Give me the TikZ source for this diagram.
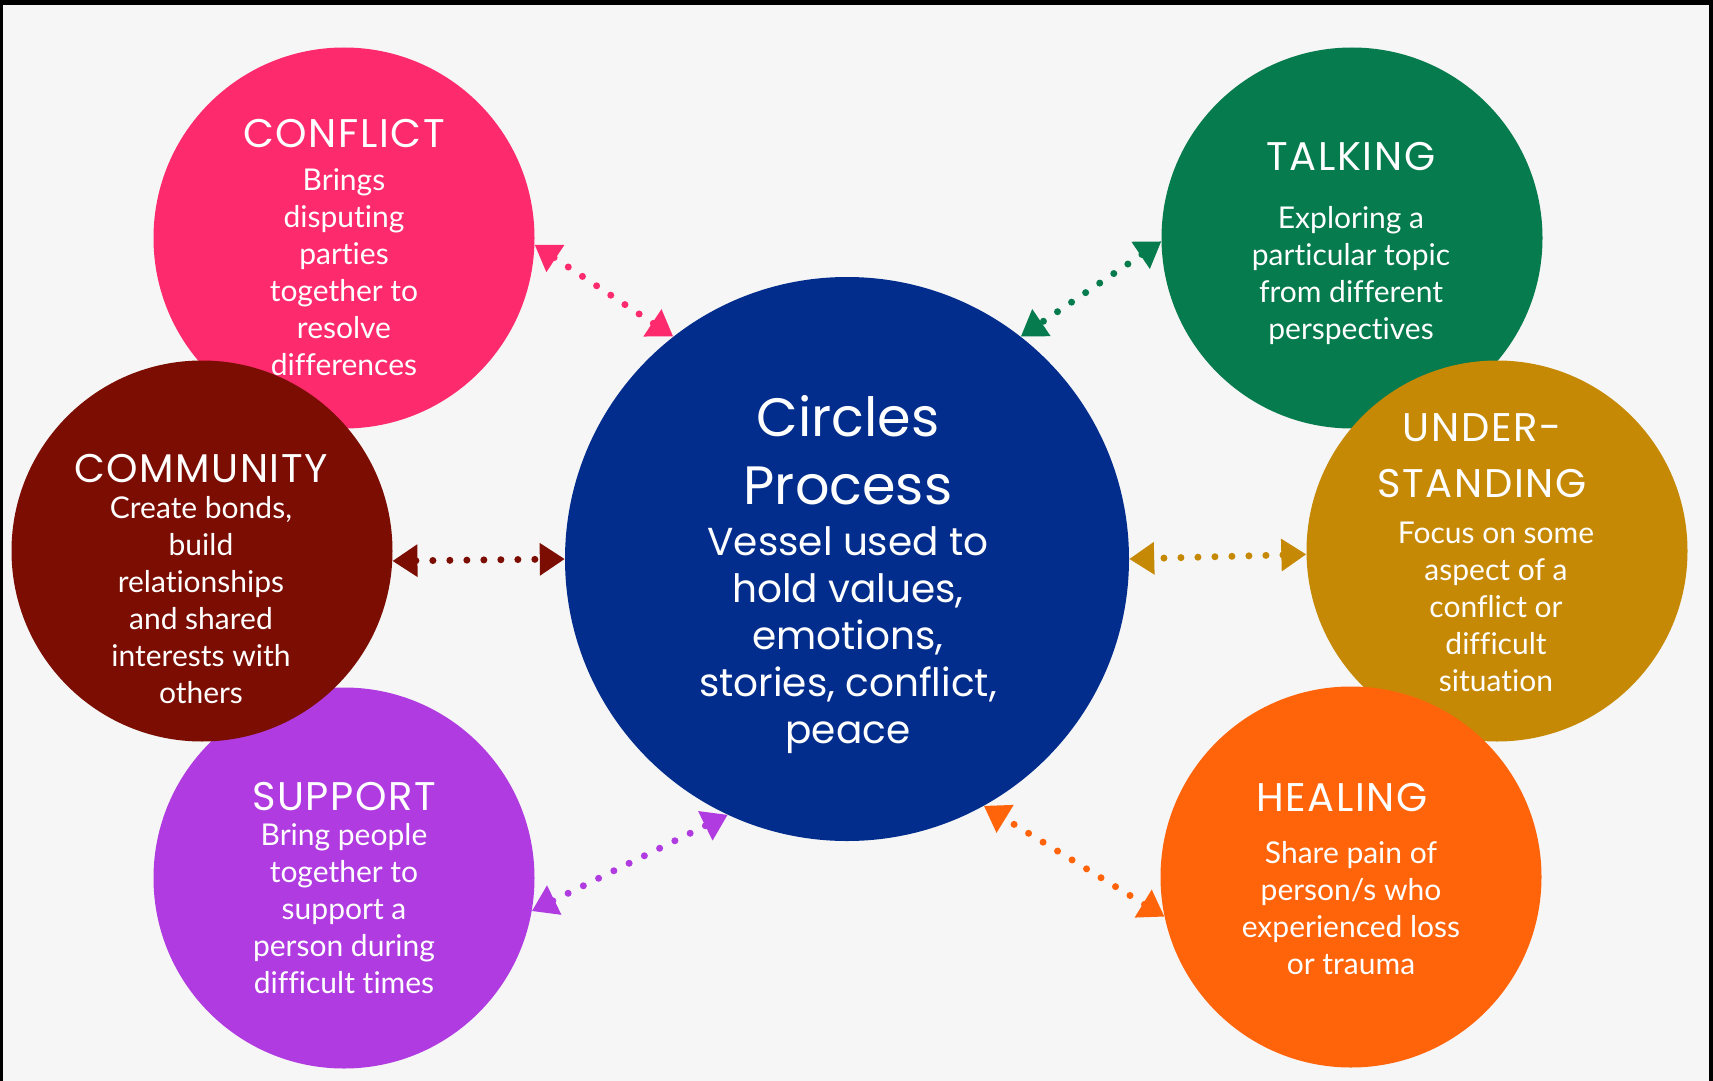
\documentclass[tikz,border=0pt]{standalone}
\usepackage{fontspec}
\setmainfont{Poppins}
\newfontfamily\handfont{Lato}[Ligatures=NoCommon]
\newfontfamily\ttlfamily{Poppins}[LetterSpace=4]
\usetikzlibrary{arrows.meta}
\definecolor{bgc}{HTML}{F6F6F6}
\definecolor{cpink}{HTML}{FE2A6E}
\definecolor{cgreen}{HTML}{067B4E}
\definecolor{cmaroon}{HTML}{7B0D02}
\definecolor{cgold}{HTML}{C68905}
\definecolor{cpurple}{HTML}{B03BE0}
\definecolor{corange}{HTML}{FF640A}
\definecolor{cblue}{HTML}{022D8C}
\begin{document}
\begin{tikzpicture}[x=1pt,y=-1pt,
  bubble/.style={circle, inner sep=0pt, minimum size=381pt, draw=none},
  ttl/.style={text=white, font=\ttlfamily\fontsize{40}{56}\selectfont, inner sep=0pt, anchor=base},
  body/.style={text=white, font=\handfont\fontsize{30}{37}\selectfont, align=center, inner sep=0pt, anchor=base},
  link/.style={line width=7pt, dash pattern=on 0pt off 17pt, line cap=round, {Triangle[length=25pt,width=31pt]}-{Triangle[length=25pt,width=31pt]}}
]
\fill[black] (0,0) rectangle (1713,1081);
\fill[bgc] (3,5) rectangle (1709,1081);
\useasboundingbox (0,0) rectangle (1713,1081);

% circles
\node[bubble, fill=cpink] (conflict) at (344,238) {};
\node[bubble, fill=cpurple] (support) at (344,878) {};
\node[bubble, fill=cmaroon] (community) at (202,551) {};
\node[bubble, fill=cgreen] (talking) at (1352,238) {};
\node[bubble, fill=cgold] (under) at (1497,551) {};
\node[bubble, fill=corange] (healing) at (1351,877) {};
\node[circle, inner sep=0pt, minimum size=564pt, fill=cblue] (core) at (847,559) {};

% connectors
\draw[link, cpink] (conflict.-2) -- (core.128.3);
\draw[link, cgreen] (talking.181.5) -- (core.52.2);
\draw[link, cmaroon] (community.-3.3) -- (core.180.6);
\draw[link, cgold] (under.181.8) -- (core.0.4);
\draw[link, cpurple] (support.-10) -- (core.-115.7);
\draw[link, corange] (healing.192.7) -- (core.-61.7);

% texts (anchor=base is the baseline of the last line)
\node[ttl] (t1) at (344,147) {CONFLICT};
\node[body] (b1) at (344,375) {Brings\\disputing\\parties\\together to\\resolve\\differences};

\node[ttl] (t2) at (1351,170) {TALKING};
\node[body] (b2) at (1351,339) {Exploring a\\particular topic\\from different\\perspectives};

\node[ttl] (t3) at (201,482) {COMMUNITY};
\node[body] (b3) at (201,703) {Create bonds,\\build\\relationships\\and shared\\interests with\\others};

\node[ttl, align=center] (t4) at (1482,497) {UNDER-\\STANDING};
\node[body] (b4) at (1496,691) {Focus on some\\aspect of a\\conflict or\\difficult\\situation};

\node[ttl] (t5) at (344,810) {SUPPORT};
\node[body] (b5) at (344,993) {Bring people\\together to\\support a\\person during\\difficult times};

\node[ttl] (t6) at (1342,811) {HEALING};
\node[body] (b6) at (1351,974) {Share pain of\\person/s who\\experienced loss\\or trauma};

\node[text=white, font=\fontsize{54}{68}\selectfont, align=center, inner sep=0pt, anchor=base] (t0) at (848,504) {Circles\\Process};
\node[text=white, font=\fontsize{39}{47}\selectfont, align=center, inner sep=0pt, anchor=base] (b0) at (848,743) {Vessel used to\\hold values,\\emotions,\\stories, conflict,\\peace};
\end{tikzpicture}
\end{document}
